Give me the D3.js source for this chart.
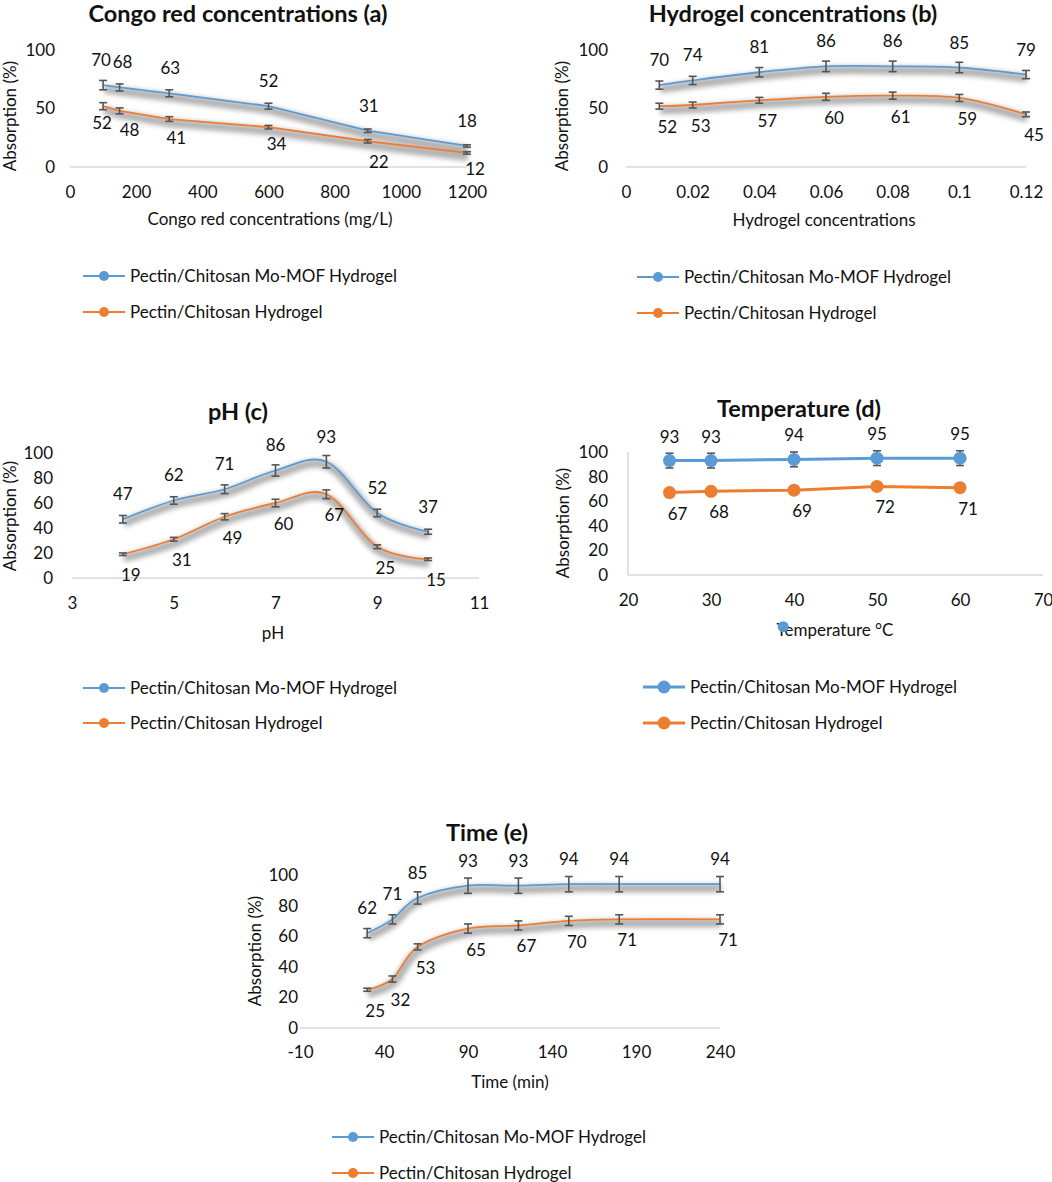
<!DOCTYPE html>
<html>
<head>
<meta charset="utf-8">
<script src="https://cdnjs.cloudflare.com/ajax/libs/d3/7.8.5/d3.min.js"></script>
<style>
  body { margin: 0; background: #fff; }
  svg { display: block; }
  text { font-family: Lato, "Open Sans", sans-serif; fill: #111; }
</style>
</head>
<body>
<div id="root"></div>
<script>
const width = 1052;
const height = 1182;

// series names (legend)
const seriesNames = ["Pectin/Chitosan Mo-MOF Hydrogel", "Pectin/Chitosan Hydrogel"];

// (a) Congo red concentrations
const congoX = [100, 150, 300, 600, 900, 1200];
const congoMof = [70, 68, 63, 52, 31, 18];
const congoPlain = [52, 48, 41, 34, 22, 12];
const congoMofErr = [4, 3, 3, 2.5, 1.5, 1];
const congoPlainErr = [3, 2.5, 2, 1.5, 1.5, 1];
const congoTicks = [0, 200, 400, 600, 800, 1000, 1200];

// (b) Hydrogel concentrations
const gelX = [0.01, 0.02, 0.04, 0.06, 0.08, 0.1, 0.12];
const gelMof = [70, 74, 81, 86, 86, 85, 79];
const gelPlain = [52, 53, 57, 60, 61, 59, 45];
const gelMofErr = [3.5, 3.5, 4, 4.5, 4.5, 4.5, 3.5];
const gelPlainErr = [2.5, 2.5, 2.5, 3, 3, 3, 2];
const gelTicks = [0, 0.02, 0.04, 0.06, 0.08, 0.1, 0.12];

// (c) pH
const phX = [4, 5, 6, 7, 8, 9, 10];
const phMof = [47, 62, 71, 86, 93, 52, 37];
const phPlain = [19, 31, 49, 60, 67, 25, 15];
const phMofErr = [3, 3, 3.5, 4.5, 5, 3, 2];
const phPlainErr = [1, 1.5, 2.5, 3, 3.5, 1.5, 1];
const phTicks = [3, 5, 7, 9, 11];

// (d) Temperature
const tempX = [25, 30, 40, 50, 60];
const tempMof = [93, 93, 94, 95, 95];
const tempPlain = [67, 68, 69, 72, 71];
const tempMofErr = [6, 6, 6, 6, 6];
const tempPlainErr = [2, 2, 2, 2, 2];
const tempTicks = [20, 30, 40, 50, 60, 70];
const tempStray = [{ x: 38.7, y: -42 }];

// (e) Time
const timeX = [30, 45, 60, 90, 120, 150, 180, 240];
const timeMof = [62, 71, 85, 93, 93, 94, 94, 94];
const timePlain = [25, 32, 53, 65, 67, 70, 71, 71];
const timeMofErr = [3, 3, 4, 5, 5, 5, 5, 5];
const timePlainErr = [1, 2, 2, 3, 3, 3, 3, 3];
const timeTicks = [-10, 40, 90, 140, 190, 240];

const yTicksCoarse = [0, 50, 100];
const yTicksFine = [0, 20, 40, 60, 80, 100];

const colors = ["#5b9bd5", "#ed7d31"];
const smooth = d3.curveCardinal.tension(0);

const panels = [
	{
		title: "Congo red concentrations (a)", xTitle: "Congo red concentrations (mg/L)",
		xs: congoX, vals: [congoMof, congoPlain], errs: [congoMofErr, congoPlainErr],
		xDomain: [0, 1200], xTicks: congoTicks, yTicks: yTicksCoarse, curve: d3.curveLinear,
		frame: { x0: 70, x1: 467, y0: 167, y1: 50 }, yLabelRight: 55, yTitle: [10, 116],
		titlePos: [238, 14], xTitlePos: [270, 219], xTickY: 192, legend: { x: 83, y: [276, 312] },
		shadow: true, mofDx: [-2, 3, 1, 0, 1, 0],
		plainDx: [-1, 10, 7, 8, 11, 8], plainDy: [17, 19, 19, 17, 21, 16]
	},
	{
		title: "Hydrogel concentrations (b)", xTitle: "Hydrogel concentrations",
		xs: gelX, vals: [gelMof, gelPlain], errs: [gelMofErr, gelPlainErr],
		xDomain: [0, 0.12], xTicks: gelTicks, yTicks: yTicksCoarse, curve: smooth,
		frame: { x0: 626, x1: 1026, y0: 167, y1: 50 }, yLabelRight: 608, yTitle: [562, 116],
		titlePos: [793, 14], xTitlePos: [824, 220], xTickY: 192, legend: { x: 637, y: [277, 313] },
		shadow: true
	},
	{
		title: "pH (c)", xTitle: "pH",
		xs: phX, vals: [phMof, phPlain], errs: [phMofErr, phPlainErr],
		xDomain: [3, 11], xTicks: phTicks, yTicks: yTicksFine, curve: smooth,
		frame: { x0: 72, x1: 479, y0: 578, y1: 453 }, yLabelRight: 53, yTitle: [10, 516],
		titlePos: [238, 412], xTitlePos: [273, 633], xTickY: 603, legend: { x: 83, y: [688, 723] },
		shadow: true
	},
	{
		title: "Temperature (d)", xTitle: "Temperature °C",
		xs: tempX, vals: [tempMof, tempPlain], errs: [tempMofErr, tempPlainErr],
		xDomain: [20, 70], xTicks: tempTicks, yTicks: yTicksFine, curve: d3.curveLinear,
		frame: { x0: 628, x1: 1043, y0: 575, y1: 452 }, yLabelRight: 608, yTitle: [563, 523],
		titlePos: [799, 409], xTitlePos: [835, 630], xTickY: 600, legend: { x: 643, y: [687, 723] },
		shadow: false, markers: true, axisLine: true, stray: tempStray, mofDy: -24
	},
	{
		title: "Time (e)", xTitle: "Time (min)",
		xs: timeX, vals: [timeMof, timePlain], errs: [timeMofErr, timePlainErr],
		xDomain: [-10, 240], xTicks: timeTicks, yTicks: yTicksFine, curve: smooth,
		frame: { x0: 300, x1: 720, y0: 1028, y1: 875 }, yLabelRight: 298, yTitle: [255, 951],
		titlePos: [487, 833], xTitlePos: [510, 1082], xTickY: 1052, legend: { x: 332, y: [1137, 1173] },
		shadow: true
	}
];

const svg = d3.select("#root")
	.append("svg")
		.attr("width", width)
		.attr("height", height);

svg.append("defs")
	.append("filter")
		.attr("id", "blur")
		.attr("x", "-10%").attr("y", "-50%")
		.attr("width", "120%").attr("height", "200%")
	.append("feGaussianBlur")
		.attr("stdDeviation", 2.5);

panels.forEach(p => drawPanel(p));

function drawPanel(p) {
	const x = d3.scaleLinear().domain(p.xDomain).range([p.frame.x0, p.frame.x1]);
	const y = d3.scaleLinear().domain([0, 100]).range([p.frame.y0, p.frame.y1]);
	const g = svg.append("g");
	const fs = 17;

	// zero line / axis lines
	g.append("line")
		.attr("x1", x(p.xDomain[0])).attr("x2", x(p.xDomain[1]))
		.attr("y1", y(0)).attr("y2", y(0))
		.attr("stroke", "#d9d9d9").attr("stroke-width", 1.5);
	if (p.axisLine) {
		g.append("line")
			.attr("x1", x(p.xDomain[0])).attr("x2", x(p.xDomain[0]))
			.attr("y1", y(0)).attr("y2", y(100))
			.attr("stroke", "#d9d9d9").attr("stroke-width", 1.5);
	}

	// axes
	const yAxis = g.append("g")
		.attr("transform", `translate(${p.frame.x0},0)`)
		.call(d3.axisLeft(y).tickValues(p.yTicks).tickSize(0).tickPadding(p.frame.x0 - p.yLabelRight));
	const xAxis = g.append("g")
		.attr("transform", `translate(0,${y(0)})`)
		.call(d3.axisBottom(x).tickValues(p.xTicks).tickSize(0)
			.tickPadding(p.xTickY - y(0) - 0.35 * fs).tickFormat(d => String(d)));
	[yAxis, xAxis].forEach(a => {
		a.select(".domain").remove();
		a.attr("font-family", null).attr("font-size", fs);
		a.selectAll("text").style("fill", "#111");
	});

	// titles
	g.append("text")
		.attr("x", p.titlePos[0]).attr("y", p.titlePos[1]).attr("dy", "0.35em")
		.attr("text-anchor", "middle")
		.style("font-size", "23.5px").style("font-weight", "bold")
		.text(p.title);
	g.append("text")
		.attr("x", p.xTitlePos[0]).attr("y", p.xTitlePos[1]).attr("dy", "0.35em")
		.attr("text-anchor", "middle")
		.style("font-size", fs + "px")
		.text(p.xTitle);
	g.append("text")
		.attr("transform", `translate(${p.yTitle[0]},${p.yTitle[1]}) rotate(-90)`)
		.attr("dy", "0.35em")
		.attr("text-anchor", "middle")
		.style("font-size", fs + "px")
		.text("Absorption (%)");

	const line = d3.line()
		.x((d, i) => x(p.xs[i]))
		.y(d => y(d))
		.curve(p.curve);

	// shadow
	if (p.shadow) {
		p.vals.forEach(vals => {
			g.append("path")
				.attr("d", line(vals))
				.attr("transform", "translate(1,4)")
				.attr("fill", "none")
				.attr("stroke", "#7a7a7a")
				.attr("stroke-width", 8)
				.attr("opacity", 0.6)
				.attr("filter", "url(#blur)");
		});
	}

	const lineWidth = p.markers ? 3 : 1.8;

	p.vals.forEach((vals, s) => {
		g.append("path")
			.attr("d", line(vals))
			.attr("fill", "none")
			.attr("stroke", colors[s])
			.attr("stroke-width", lineWidth);

		const pts = vals.map((v, i) => ({ x: p.xs[i], v: v, e: p.errs[s][i], i: i }));
		const eb = g.append("g")
			.attr("stroke", "#555")
			.attr("stroke-width", 1.6);
		eb.selectAll(".bar").data(pts).join("line")
			.attr("x1", d => x(d.x)).attr("x2", d => x(d.x))
			.attr("y1", d => y(d.v - d.e)).attr("y2", d => y(d.v + d.e));
		eb.selectAll(".capT").data(pts).join("line")
			.attr("x1", d => x(d.x) - 4).attr("x2", d => x(d.x) + 4)
			.attr("y1", d => y(d.v + d.e)).attr("y2", d => y(d.v + d.e));
		eb.selectAll(".capB").data(pts).join("line")
			.attr("x1", d => x(d.x) - 4).attr("x2", d => x(d.x) + 4)
			.attr("y1", d => y(d.v - d.e)).attr("y2", d => y(d.v - d.e));

		if (p.markers) {
			g.selectAll(null).data(pts).join("circle")
				.attr("cx", d => x(d.x)).attr("cy", d => y(d.v))
				.attr("r", 6.5)
				.attr("fill", colors[s]);
		}

		const ldx = d => s === 0 ? (p.mofDx ? p.mofDx[d.i] : 0) : (p.plainDx ? p.plainDx[d.i] : 8);
		const ldy = d => s === 0 ? (p.mofDy || -25) : (p.plainDy ? p.plainDy[d.i] : 21);
		g.selectAll(null).data(pts).join("text")
			.attr("x", d => x(d.x) + ldx(d))
			.attr("y", d => y(d.v) + ldy(d))
			.attr("dy", "0.35em")
			.attr("text-anchor", "middle")
			.style("font-size", fs + "px")
			.text(d => d.v);
	});

	if (p.stray) {
		g.selectAll(null).data(p.stray).join("circle")
			.attr("cx", d => x(d.x)).attr("cy", d => y(d.y))
			.attr("r", 5.5)
			.attr("fill", colors[0]);
	}

	// legend
	const leg = g.append("g");
	seriesNames.forEach((name, s) => {
		const ly = p.legend.y[s];
		leg.append("line")
			.attr("x1", p.legend.x).attr("x2", p.legend.x + 42)
			.attr("y1", ly).attr("y2", ly)
			.attr("stroke", colors[s])
			.attr("stroke-width", p.markers ? 3 : 1.8);
		leg.append("circle")
			.attr("cx", p.legend.x + 21).attr("cy", ly)
			.attr("r", p.markers ? 6.5 : 5)
			.attr("fill", colors[s]);
		leg.append("text")
			.attr("x", p.legend.x + 47).attr("y", ly).attr("dy", "0.35em")
			.style("font-size", fs + "px")
			.text(name);
	});
}
</script>
</body>
</html>
